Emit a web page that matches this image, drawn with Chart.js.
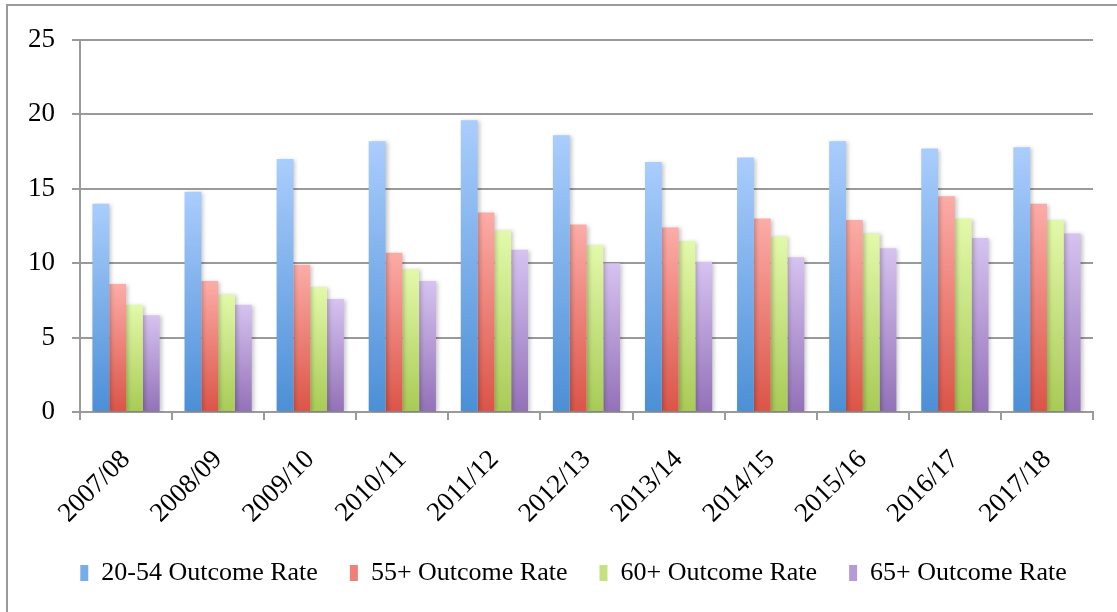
<!DOCTYPE html>
<html>
<head>
<meta charset="utf-8">
<script src="https://cdn.jsdelivr.net/npm/chart.js@4/dist/chart.umd.min.js"></script>
<style>
  html, body { margin: 0; padding: 0; background: #fff; }
  #wrap { position: absolute; left: 0; top: 0; width: 1117px; height: 612px; }
</style>
</head>
<body>
<div id="wrap"><canvas id="grafico"></canvas></div>
<script>
// years on the x axis
var years = ["2007/08", "2008/09", "2009/10", "2010/11", "2011/12", "2012/13",
             "2013/14", "2014/15", "2015/16", "2016/17", "2017/18"];

// outcome rates per age group
var rate2054 = [14.0, 14.8, 17.0, 18.2, 19.6, 18.6, 16.8, 17.1, 18.2, 17.7, 17.8];
var rate55   = [8.6, 8.8, 9.9, 10.7, 13.4, 12.6, 12.4, 13.0, 12.9, 14.5, 14.0];
var rate60   = [7.2, 7.9, 8.4, 9.6, 12.2, 11.2, 11.5, 11.8, 12.0, 13.0, 12.9];
var rate65   = [6.5, 7.2, 7.6, 8.8, 10.9, 10.0, 10.1, 10.4, 11.0, 11.7, 12.0];

var seriesNames = ["20-54 Outcome Rate", "55+ Outcome Rate", "60+ Outcome Rate", "65+ Outcome Rate"];

// y axis ticks
var yTicks = [0, 5, 10, 15, 20, 25];

var colores = [
  ["#aacdfd", "#4b8fd6", "#78adeb"],
  ["#fcaca7", "#db5447", "#ee8077"],
  ["#e3f9aa", "#a8cb55", "#c6e27f"],
  ["#d6c3f0", "#9371b8", "#b59bd6"]
];

var fuente = "'Liberation Serif', 'DejaVu Serif', serif";

// gradient per bar, from its top down to zero
function relleno(idx) {
  return function (context) {
    var chart = context.chart;
    var ctx = chart.ctx;
    if (!chart.chartArea || !chart.scales.y || context.type !== 'data') {
      return colores[idx][1];
    }
    var yScale = chart.scales.y;
    var top = yScale.getPixelForValue(context.raw);
    var bottom = yScale.getPixelForValue(0);
    if (!isFinite(top) || !isFinite(bottom) || top === bottom) {
      return colores[idx][1];
    }
    var g = ctx.createLinearGradient(0, top, 0, bottom);
    g.addColorStop(0, colores[idx][0]);
    g.addColorStop(1, colores[idx][1]);
    return g;
  };
}

var datos = [rate2054, rate55, rate60, rate65];
var conjuntos = datos.map(function (serie, i) {
  return {
    label: seriesNames[i],
    data: serie,
    backgroundColor: relleno(i),
    borderWidth: 0,
    barPercentage: 1.0,
    categoryPercentage: 0.73
  };
});

var marco = {
  id: 'marco',
  afterLayout: function (chart) {
    // nudge the legend so it is centred under the plot like the original
    if (chart.legend) {
      chart.legend.left += 27;
      chart.legend.right += 27;
    }
  },
  beforeDraw: function (chart) {
    var ctx = chart.ctx;
    ctx.save();
    ctx.strokeStyle = '#9a9a9a';
    ctx.lineWidth = 2;
    ctx.strokeRect(7, 5, 1300, 800);
    ctx.restore();
  },
  beforeDatasetsDraw: function (chart) {
    var ctx = chart.ctx;
    ctx.save();
    ctx.shadowColor = 'rgba(0,0,0,0.22)';
    ctx.shadowBlur = 4;
    ctx.shadowOffsetX = 2;
    ctx.shadowOffsetY = 1;
  },
  afterDatasetsDraw: function (chart) {
    chart.ctx.restore();
  }
};

var ctx = document.getElementById("grafico");
var grafico = new Chart(ctx, {
  type: 'bar',
  data: {
    labels: years,
    datasets: conjuntos
  },
  plugins: [marco],
  options: {
    responsive: true,
    maintainAspectRatio: false,
    animation: false,
    layout: { padding: { left: 0, right: 24, top: 40, bottom: 16 } },
    plugins: {
      tooltip: { enabled: false },
      legend: {
        position: 'bottom',
        labels: {
          font: { family: fuente, size: 26 },
          color: '#000',
          boxWidth: 8,
          boxHeight: 16,
          padding: 32,
          generateLabels: function (chart) {
            return chart.data.datasets.map(function (ds, i) {
              return {
                text: ds.label,
                fillStyle: colores[i][2],
                strokeStyle: 'rgba(0,0,0,0)',
                lineWidth: 0,
                datasetIndex: i,
                hidden: false
              };
            });
          }
        }
      }
    },
    scales: {
      x: {
        grid: {
          display: true,
          drawOnChartArea: false,
          color: '#9a9a9a',
          lineWidth: 2,
          tickLength: 8,
          offset: true
        },
        border: { display: true, color: '#9a9a9a', width: 2 },
        ticks: {
          font: { family: fuente, size: 27 },
          color: '#000',
          minRotation: 45,
          maxRotation: 45,
          padding: 24,
          autoSkip: false
        },
        afterFit: function (scale) { scale.height = 116; }
      },
      y: {
        min: 0,
        max: 25,
        afterBuildTicks: function (scale) {
          scale.ticks = yTicks.map(function (v) { return { value: v }; });
        },
        grid: {
          color: '#9a9a9a',
          lineWidth: 2,
          tickLength: 8
        },
        border: { display: true, color: '#9a9a9a', width: 2 },
        ticks: {
          font: { family: fuente, size: 27 },
          color: '#000',
          padding: 17
        },
        afterFit: function (scale) { scale.width = 80; }
      }
    }
  }
});
</script>
</body>
</html>
